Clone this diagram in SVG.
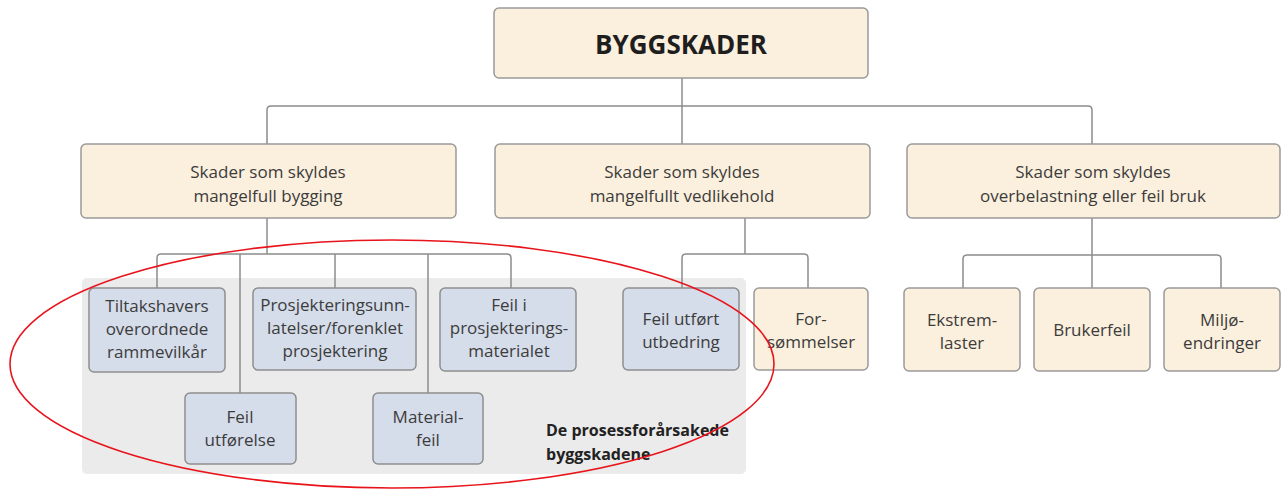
<svg xmlns="http://www.w3.org/2000/svg" width="1281" height="490" viewBox="0 0 1281 490">
<style>
.beige{fill:#fbefdd;stroke:#9a9a9a;stroke-width:1.5}
.blue{fill:#d5dcea;stroke:#8e8e8e;stroke-width:1.5}
.t{font-family:"Open Sans","Noto Sans",sans-serif;font-size:17px;fill:#3c3c3c;text-anchor:middle}
.c{fill:none;stroke:#8c8c8c;stroke-width:1.5}
</style>
<rect width="1281" height="490" fill="#ffffff"/>
<rect x="82" y="278" width="664" height="196" rx="5" fill="#ebebeb"/>
<g id="connectors" class="c">
<path d="M682 78V106"/>
<path d="M267 144V110Q267 106 271 106H1088Q1092 106 1092 110V144"/>
<path d="M682 106V144"/>
<path d="M267 218V254"/>
<path d="M157 288V258Q157 254 161 254H507Q511 254 511 258V288"/>
<path d="M240 254V393"/>
<path d="M335 254V288"/>
<path d="M428 254V393"/>
<path d="M745 218V254"/>
<path d="M682 288V258Q682 254 686 254H804Q808 254 808 258V288"/>
<path d="M1092 218V288"/>
<path d="M963 288V259Q963 255 967 255H1217Q1221 255 1221 259V288"/>
</g>
<g id="n-root"><rect class="beige" x="494" y="8" width="374" height="70" rx="5"/><text x="681" y="54" font-family="'Open Sans','Noto Sans',sans-serif" font-size="26" font-weight="bold" fill="#1e1e1e" text-anchor="middle">BYGGSKADER</text></g>
<g id="n-bygging"><rect class="beige" x="81" y="144" width="375" height="74" rx="5"/><text class="t" x="268" y="178">Skader som skyldes</text><text class="t" x="268" y="202">mangelfull bygging</text></g>
<g id="n-vedlikehold"><rect class="beige" x="495" y="144" width="375" height="74" rx="5"/><text class="t" x="682" y="178">Skader som skyldes</text><text class="t" x="682" y="202">mangelfullt vedlikehold</text></g>
<g id="n-bruk"><rect class="beige" x="907" y="144" width="373" height="74" rx="5"/><text class="t" x="1093" y="178">Skader som skyldes</text><text class="t" x="1093" y="202">overbelastning eller feil bruk</text></g>
<g id="n-tiltak"><rect class="blue" x="89" y="288" width="136" height="84" rx="5"/><text class="t" x="157" y="312">Tiltakshavers</text><text class="t" x="157" y="335">overordnede</text><text class="t" x="157" y="358">rammevilkår</text></g>
<g id="n-prosj"><rect class="blue" x="253" y="288" width="163" height="82" rx="5"/><text class="t" x="335" y="311">Prosjekteringsunn-</text><text class="t" x="335" y="334">latelser/forenklet</text><text class="t" x="335" y="357">prosjektering</text></g>
<g id="n-feilprosj"><rect class="blue" x="440" y="288" width="136" height="83" rx="5"/><text class="t" x="509" y="311">Feil i</text><text class="t" x="509" y="334">prosjekterings-</text><text class="t" x="509" y="357">materialet</text></g>
<g id="n-utbedring"><rect class="blue" x="623" y="288" width="116" height="82" rx="5"/><text class="t" x="681" y="325">Feil utført</text><text class="t" x="681" y="348">utbedring</text></g>
<g id="n-forsommelser"><rect class="beige" x="754" y="288" width="114" height="82" rx="5"/><text class="t" x="811" y="325">For-</text><text class="t" x="811" y="348">sømmelser</text></g>
<g id="n-utforelse"><rect class="blue" x="185" y="393" width="111" height="71" rx="5"/><text class="t" x="240" y="423">Feil</text><text class="t" x="240" y="446">utførelse</text></g>
<g id="n-materialfeil"><rect class="blue" x="373" y="393" width="110" height="71" rx="5"/><text class="t" x="428" y="423">Material-</text><text class="t" x="428" y="446">feil</text></g>
<g id="n-ekstrem"><rect class="beige" x="904" y="288" width="116" height="83" rx="5"/><text class="t" x="962" y="326">Ekstrem-</text><text class="t" x="962" y="349">laster</text></g>
<g id="n-brukerfeil"><rect class="beige" x="1034" y="288" width="116" height="83" rx="5"/><text class="t" x="1092" y="336">Brukerfeil</text></g>
<g id="n-miljo"><rect class="beige" x="1164" y="288" width="116" height="83" rx="5"/><text class="t" x="1222" y="326">Miljø-</text><text class="t" x="1222" y="349">endringer</text></g>
<g id="label"><text font-family="'Open Sans','Noto Sans',sans-serif" font-size="16" font-weight="bold" fill="#222"><tspan x="546" y="436">De prosessforårsakede</tspan><tspan x="546" y="460">byggskadene</tspan></text></g>
<ellipse cx="392" cy="364" rx="382" ry="124" fill="none" stroke="#e8141c" stroke-width="1.6"/>
</svg>
